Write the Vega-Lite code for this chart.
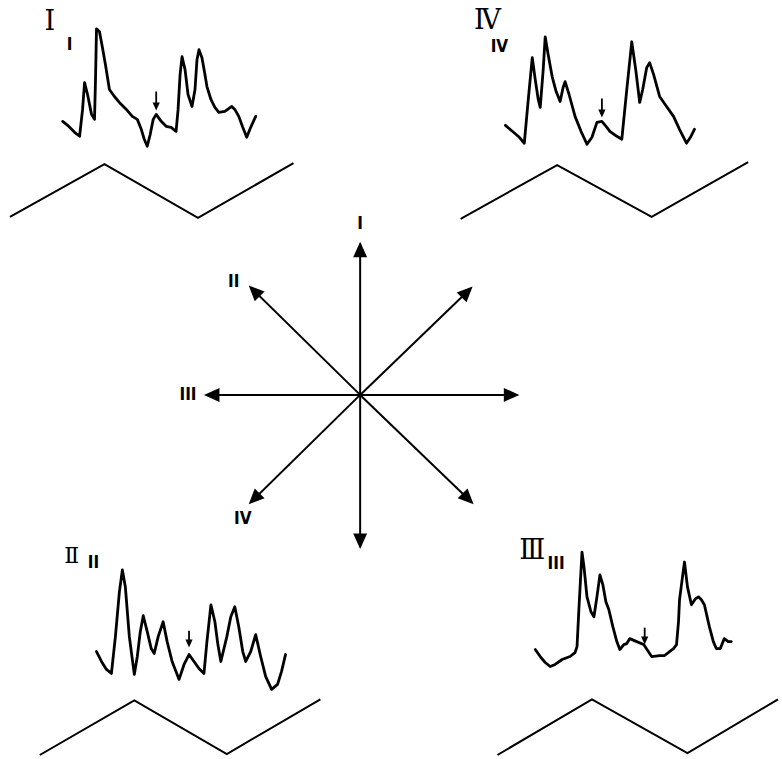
{
  "$schema": "https://vega.github.io/schema/vega-lite/v6.json",
  "width": 782,
  "height": 759,
  "autosize": {"type": "fit", "contains": "padding"},
  "padding": 0,
  "background": "white",
  "config": {"view": {"stroke": null}},
  "datasets": {
    "traces": [
      {"s":"I","x":63,"y":122},{"s":"I","x":68,"y":126},{"s":"I","x":75,"y":133},{"s":"I","x":80,"y":137},{"s":"I","x":83,"y":110},{"s":"I","x":85,"y":83},{"s":"I","x":88,"y":95},{"s":"I","x":92,"y":115},{"s":"I","x":95,"y":120},{"s":"I","x":96,"y":80},{"s":"I","x":97,"y":29},{"s":"I","x":100,"y":32},{"s":"I","x":103,"y":48},{"s":"I","x":106,"y":65},{"s":"I","x":110,"y":90},{"s":"I","x":115,"y":97},{"s":"I","x":120,"y":103},{"s":"I","x":127,"y":110},{"s":"I","x":133,"y":117},{"s":"I","x":138,"y":120},{"s":"I","x":142,"y":130},{"s":"I","x":145,"y":140},{"s":"I","x":148,"y":147},{"s":"I","x":151,"y":135},{"s":"I","x":154,"y":120},{"s":"I","x":157,"y":115},{"s":"I","x":162,"y":122},{"s":"I","x":167,"y":127},{"s":"I","x":172,"y":128},{"s":"I","x":177,"y":132},{"s":"I","x":179,"y":110},{"s":"I","x":181,"y":75},{"s":"I","x":183,"y":57},{"s":"I","x":186,"y":70},{"s":"I","x":189,"y":95},{"s":"I","x":193,"y":107},{"s":"I","x":196,"y":90},{"s":"I","x":198,"y":60},{"s":"I","x":200,"y":50},{"s":"I","x":203,"y":58},{"s":"I","x":206,"y":75},{"s":"I","x":208,"y":87},{"s":"I","x":212,"y":100},{"s":"I","x":216,"y":108},{"s":"I","x":220,"y":113},{"s":"I","x":226,"y":112},{"s":"I","x":233,"y":107},{"s":"I","x":236,"y":110},{"s":"I","x":240,"y":117},{"s":"I","x":244,"y":128},{"s":"I","x":248,"y":138},{"s":"I","x":252,"y":128},{"s":"I","x":257,"y":117},
      {"s":"IV","x":508,"y":126},{"s":"IV","x":515,"y":132},{"s":"IV","x":522,"y":138},{"s":"IV","x":527,"y":144},{"s":"IV","x":531,"y":100},{"s":"IV","x":535,"y":58},{"s":"IV","x":538,"y":80},{"s":"IV","x":541,"y":100},{"s":"IV","x":543,"y":108},{"s":"IV","x":546,"y":70},{"s":"IV","x":548,"y":37},{"s":"IV","x":551,"y":55},{"s":"IV","x":555,"y":77},{"s":"IV","x":559,"y":92},{"s":"IV","x":563,"y":102},{"s":"IV","x":566,"y":88},{"s":"IV","x":568,"y":82},{"s":"IV","x":572,"y":95},{"s":"IV","x":578,"y":117},{"s":"IV","x":584,"y":132},{"s":"IV","x":590,"y":145},{"s":"IV","x":595,"y":138},{"s":"IV","x":600,"y":123},{"s":"IV","x":605,"y":122},{"s":"IV","x":610,"y":128},{"s":"IV","x":613,"y":132},{"s":"IV","x":620,"y":137},{"s":"IV","x":625,"y":140},{"s":"IV","x":630,"y":90},{"s":"IV","x":635,"y":42},{"s":"IV","x":639,"y":70},{"s":"IV","x":643,"y":103},{"s":"IV","x":646,"y":90},{"s":"IV","x":650,"y":68},{"s":"IV","x":653,"y":63},{"s":"IV","x":657,"y":75},{"s":"IV","x":663,"y":97},{"s":"IV","x":670,"y":107},{"s":"IV","x":677,"y":117},{"s":"IV","x":683,"y":130},{"s":"IV","x":690,"y":144},{"s":"IV","x":694,"y":138},{"s":"IV","x":698,"y":130},
      {"s":"II","x":97,"y":655},{"s":"II","x":102,"y":665},{"s":"II","x":107,"y":673},{"s":"II","x":112,"y":677},{"s":"II","x":116,"y":640},{"s":"II","x":120,"y":595},{"s":"II","x":123,"y":573},{"s":"II","x":126,"y":590},{"s":"II","x":130,"y":640},{"s":"II","x":135,"y":678},{"s":"II","x":138,"y":660},{"s":"II","x":141,"y":635},{"s":"II","x":144,"y":619},{"s":"II","x":148,"y":635},{"s":"II","x":152,"y":652},{"s":"II","x":155,"y":657},{"s":"II","x":159,"y":640},{"s":"II","x":164,"y":625},{"s":"II","x":168,"y":645},{"s":"II","x":173,"y":665},{"s":"II","x":180,"y":683},{"s":"II","x":185,"y":668},{"s":"II","x":190,"y":658},{"s":"II","x":195,"y":665},{"s":"II","x":200,"y":672},{"s":"II","x":205,"y":677},{"s":"II","x":208,"y":645},{"s":"II","x":212,"y":608},{"s":"II","x":216,"y":625},{"s":"II","x":219,"y":648},{"s":"II","x":222,"y":665},{"s":"II","x":228,"y":640},{"s":"II","x":232,"y":620},{"s":"II","x":236,"y":610},{"s":"II","x":240,"y":630},{"s":"II","x":244,"y":655},{"s":"II","x":247,"y":665},{"s":"II","x":252,"y":655},{"s":"II","x":257,"y":638},{"s":"II","x":262,"y":660},{"s":"II","x":267,"y":680},{"s":"II","x":273,"y":693},{"s":"II","x":279,"y":688},{"s":"II","x":283,"y":675},{"s":"II","x":287,"y":658},
      {"s":"III","x":538,"y":653},{"s":"III","x":543,"y":660},{"s":"III","x":548,"y":666},{"s":"III","x":553,"y":670},{"s":"III","x":558,"y":668},{"s":"III","x":565,"y":663},{"s":"III","x":573,"y":660},{"s":"III","x":578,"y":656},{"s":"III","x":580,"y":650},{"s":"III","x":582,"y":610},{"s":"III","x":585,"y":555},{"s":"III","x":587,"y":570},{"s":"III","x":590,"y":600},{"s":"III","x":594,"y":615},{"s":"III","x":597,"y":620},{"s":"III","x":600,"y":600},{"s":"III","x":603,"y":578},{"s":"III","x":606,"y":588},{"s":"III","x":609,"y":605},{"s":"III","x":612,"y":613},{"s":"III","x":616,"y":630},{"s":"III","x":620,"y":645},{"s":"III","x":623,"y":653},{"s":"III","x":627,"y":648},{"s":"III","x":630,"y":647},{"s":"III","x":633,"y":642},{"s":"III","x":640,"y":645},{"s":"III","x":647,"y":648},{"s":"III","x":651,"y":654},{"s":"III","x":655,"y":660},{"s":"III","x":663,"y":659},{"s":"III","x":668,"y":659},{"s":"III","x":673,"y":655},{"s":"III","x":677,"y":652},{"s":"III","x":680,"y":648},{"s":"III","x":682,"y":625},{"s":"III","x":683,"y":603},{"s":"III","x":686,"y":580},{"s":"III","x":688,"y":565},{"s":"III","x":691,"y":590},{"s":"III","x":695,"y":608},{"s":"III","x":699,"y":602},{"s":"III","x":702,"y":600},{"s":"III","x":705,"y":603},{"s":"III","x":708,"y":608},{"s":"III","x":713,"y":630},{"s":"III","x":717,"y":645},{"s":"III","x":720,"y":652},{"s":"III","x":724,"y":652},{"s":"III","x":728,"y":642},{"s":"III","x":732,"y":645},{"s":"III","x":735,"y":645}
    ],
    "waves": [
      {"s":"I","x":10,"y":218},{"s":"I","x":105,"y":165},{"s":"I","x":199,"y":219},{"s":"I","x":295,"y":164},
      {"s":"IV","x":463,"y":220},{"s":"IV","x":560,"y":166},{"s":"IV","x":655,"y":218},{"s":"IV","x":752,"y":163},
      {"s":"II","x":40,"y":759},{"s":"II","x":135,"y":704},{"s":"II","x":228,"y":758},{"s":"II","x":322,"y":703},
      {"s":"III","x":500,"y":759},{"s":"III","x":595,"y":703},{"s":"III","x":691,"y":757},{"s":"III","x":782,"y":703}
    ],
    "star": [
      {"d":"N","x":362,"y":397},{"d":"N","x":362,"y":245},
      {"d":"S","x":362,"y":397},{"d":"S","x":362,"y":550},
      {"d":"W","x":362,"y":397},{"d":"W","x":207,"y":397},
      {"d":"E","x":362,"y":397},{"d":"E","x":520,"y":397},
      {"d":"NW","x":362,"y":397},{"d":"NW","x":252,"y":289},
      {"d":"NE","x":362,"y":397},{"d":"NE","x":473,"y":290},
      {"d":"SW","x":362,"y":397},{"d":"SW","x":252,"y":505},
      {"d":"SE","x":362,"y":397},{"d":"SE","x":474,"y":505}
    ],
    "marks": [
      {"s":"I","x":157,"y1":92,"y2":106},
      {"s":"IV","x":605,"y1":99,"y2":113},
      {"s":"II","x":190,"y1":634,"y2":646},
      {"s":"III","x":648,"y1":631,"y2":643}
    ],
    "heads": [
      {"k":"big","x":362,"y":243,"dir":0},
      {"k":"big","x":362,"y":552,"dir":180},
      {"k":"big","x":205,"y":397,"dir":270},
      {"k":"big","x":522,"y":397,"dir":90},
      {"k":"big","x":250,"y":287,"dir":315},
      {"k":"big","x":475,"y":288,"dir":45},
      {"k":"big","x":250,"y":507,"dir":225},
      {"k":"big","x":476,"y":507,"dir":135},
      {"k":"small","x":157,"y":111,"dir":180},
      {"k":"small","x":605,"y":118,"dir":180},
      {"k":"small","x":190,"y":651,"dir":180},
      {"k":"small","x":648,"y":648,"dir":180}
    ],
    "labels": [
      {"k":"big","t":"Ⅰ","x":50,"y":22},
      {"k":"big","t":"Ⅳ","x":490,"y":21},
      {"k":"mid","t":"Ⅱ","x":72,"y":559},
      {"k":"big","t":"Ⅲ","x":535,"y":554},
      {"k":"sub","t":"I","x":70,"y":45},
      {"k":"sub","t":"IV","x":502,"y":47},
      {"k":"sub","t":"II","x":94,"y":566},
      {"k":"sub","t":"III","x":559,"y":567},
      {"k":"sub","t":"I","x":362,"y":225},
      {"k":"sub","t":"II","x":235,"y":283},
      {"k":"sub","t":"III","x":189,"y":397},
      {"k":"sub","t":"IV","x":244,"y":522}
    ]
  },
  "encoding": {
    "x": {"field": "x", "type": "quantitative", "scale": {"domain": [0, 782], "nice": false, "zero": false}, "axis": null},
    "y": {"field": "y", "type": "quantitative", "scale": {"domain": [0, 759], "nice": false, "zero": false, "reverse": true}, "axis": null}
  },
  "layer": [
    {
      "data": {"name": "waves"},
      "mark": {"type": "line", "color": "black", "strokeWidth": 2},
      "encoding": {"detail": {"field": "s"}}
    },
    {
      "data": {"name": "traces"},
      "mark": {"type": "line", "color": "black", "strokeWidth": 2.8, "strokeJoin": "round", "strokeCap": "round"},
      "encoding": {"detail": {"field": "s"}}
    },
    {
      "data": {"name": "star"},
      "mark": {"type": "line", "color": "black", "strokeWidth": 2},
      "encoding": {"detail": {"field": "d"}}
    },
    {
      "data": {"name": "marks"},
      "mark": {"type": "rule", "color": "black", "strokeWidth": 1.8},
      "encoding": {
        "y": {"field": "y1", "type": "quantitative"},
        "y2": {"field": "y2"}
      }
    },
    {
      "data": {"name": "heads"},
      "mark": {"type": "point", "filled": true, "color": "black", "opacity": 1, "shape": "M0,0L-0.9,2L0.9,2Z"},
      "encoding": {
        "size": {"field": "k", "type": "nominal", "scale": {"domain": ["big", "small"], "range": [240, 64]}, "legend": null},
        "angle": {"field": "dir", "type": "quantitative", "scale": null}
      }
    },
    {
      "data": {"name": "labels"},
      "transform": [{"filter": "datum.k === 'big'"}],
      "mark": {"type": "text", "font": "DejaVu Serif", "fontSize": 27, "color": "black", "align": "center", "baseline": "middle"},
      "encoding": {"text": {"field": "t"}}
    },
    {
      "data": {"name": "labels"},
      "transform": [{"filter": "datum.k === 'mid'"}],
      "mark": {"type": "text", "font": "DejaVu Serif", "fontSize": 22, "color": "black", "align": "center", "baseline": "middle"},
      "encoding": {"text": {"field": "t"}}
    },
    {
      "data": {"name": "labels"},
      "transform": [{"filter": "datum.k === 'sub'"}],
      "mark": {"type": "text", "font": "Liberation Sans Narrow, DejaVu Sans Condensed, Liberation Sans", "fontWeight": "bold", "fontSize": 17, "color": "black", "align": "center", "baseline": "middle"},
      "encoding": {"text": {"field": "t"}}
    }
  ]
}
